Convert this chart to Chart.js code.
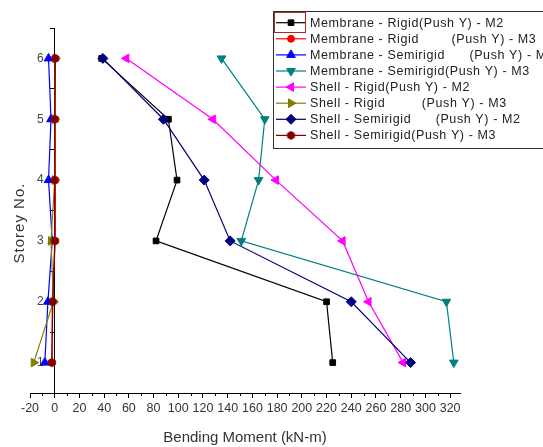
<!DOCTYPE html>
<html>
<head>
<meta charset="utf-8">
<script src="https://cdn.jsdelivr.net/npm/chart.js@4/dist/chart.umd.min.js"></script>
<style>
  html, body { margin: 0; padding: 0; background: #fff; }
  canvas { display: block; }
</style>
</head>
<body>
<canvas id="chart" width="543" height="447"></canvas>
<script>
// Storey levels (y) and bending moments in kN-m (x) for each model / direction
const storeys = [1, 2, 3, 4, 5, 6];
const membraneRigidM2     = [225, 220, 82, 99, 92, 38];
const membraneRigidM3     = [-2, -2, 0.5, 0.5, 0.5, 0.5];
const membraneSemirigidM2 = [-8, -5.5, -2, -5, -3, -5];
const membraneSemirigidM3 = [323, 317, 151, 165, 170, 135];
const shellRigidM2        = [282, 254, 233, 179, 128, 58];
const shellRigidM3        = [-17, -1, -3, 0, 0, 0.5];
const shellSemirigidM2    = [288, 240, 142, 121, 88, 39];
const shellSemirigidM3    = [-2.5, -1.5, 0, 0, 0, 0.5];

const seriesNames = [
  'Membrane - Rigid(Push Y) - M2',
  'Membrane - Rigid        (Push Y) - M3',
  'Membrane - Semirigid      (Push Y) - M2',
  'Membrane - Semirigid(Push Y) - M3',
  'Shell - Rigid(Push Y) - M2',
  'Shell - Rigid         (Push Y) - M3',
  'Shell - Semirigid      (Push Y) - M2',
  'Shell - Semirigid(Push Y) - M3'
];

const xMajorTicks = [-20, 0, 20, 40, 60, 80, 100, 120, 140, 160, 180, 200, 220, 240, 260, 280, 300, 320];
const xMinorTicks = [-10, 10, 30, 50, 70, 90, 110, 130, 150, 170, 190, 210, 230, 250, 270, 290, 310];
const yTicks = [0.5, 1, 1.5, 2, 2.5, 3, 3.5, 4, 4.5, 5, 5.5, 6, 6.5];
const yTickLabels = [1, 2, 3, 4, 5, 6];

const FONT = '"Liberation Sans", Arial, sans-serif';
Chart.defaults.font.family = FONT;

// filled hexagon marker
function hexagonMarker(color, r) {
  const s = Math.ceil(r * 2 + 2);
  const c = document.createElement('canvas');
  c.width = s; c.height = s;
  const g = c.getContext('2d');
  g.fillStyle = color;
  g.beginPath();
  for (let i = 0; i < 6; i++) {
    const a = Math.PI / 6 + i * Math.PI / 3;
    const px = s / 2 + r * Math.cos(a), py = s / 2 + r * Math.sin(a);
    if (i) g.lineTo(px, py); else g.moveTo(px, py);
  }
  g.closePath();
  g.fill();
  return c;
}

function toPoints(values) {
  return values.map((v, i) => ({ x: v, y: storeys[i] }));
}

const styles = [
  { color: '#000000', style: 'rect',     rot: 0,   r: 4 },
  { color: '#ff0000', style: 'circle',   rot: 0,   r: 3.5 },
  { color: '#0000ff', style: 'triangle', rot: 0,   r: 5 },
  { color: '#008080', style: 'triangle', rot: 180, r: 5 },
  { color: '#ff00ff', style: 'triangle', rot: 270, r: 5 },
  { color: '#808000', style: 'triangle', rot: 90,  r: 5 },
  { color: '#000080', style: 'rectRot',  rot: 0,   r: 5 },
  { color: '#800000', style: hexagonMarker('#800000', 4.5), rot: 0, r: 4.5 }
];

const seriesValues = [
  membraneRigidM2, membraneRigidM3, membraneSemirigidM2, membraneSemirigidM3,
  shellRigidM2, shellRigidM3, shellSemirigidM2, shellSemirigidM3
];

const datasets = seriesValues.map((vals, i) => ({
  label: seriesNames[i],
  data: toPoints(vals),
  showLine: true,
  borderColor: styles[i].color,
  backgroundColor: styles[i].color,
  borderWidth: 1.2,
  pointStyle: styles[i].style,
  pointRotation: styles[i].rot,
  pointRadius: styles[i].r,
  pointBackgroundColor: styles[i].color,
  pointBorderColor: styles[i].color,
  pointBorderWidth: 1,
  tension: 0,
  order: 8 - i
}));

// y tick labels beside the axis crossing at x = 0 (drawn under the series)
const yLabels = {
  id: 'yLabels',
  beforeDatasetsDraw(chart) {
    const ctx = chart.ctx;
    const xs = chart.scales.x, ys = chart.scales.y;
    const axisX = xs.getPixelForValue(0);
    ctx.save();
    ctx.font = '12px ' + FONT;
    ctx.fillStyle = '#444';
    ctx.textAlign = 'right';
    ctx.textBaseline = 'middle';
    yTickLabels.forEach(v => {
      ctx.fillText(String(v), axisX - 11, ys.getPixelForValue(v));
    });
    ctx.restore();
  }
};

// boxed legend, minor ticks and vertical axis title
const decorations = {
  id: 'decorations',
  afterDraw(chart) {
    const ctx = chart.ctx;
    const xs = chart.scales.x;
    const bottom = chart.chartArea.bottom;
    ctx.save();

    // minor ticks on the x axis
    ctx.strokeStyle = '#000';
    ctx.lineWidth = 1;
    xMinorTicks.forEach(v => {
      const px = Math.round(xs.getPixelForValue(v)) + 0.5;
      ctx.beginPath();
      ctx.moveTo(px, bottom);
      ctx.lineTo(px, bottom + 3);
      ctx.stroke();
    });

    // y axis title
    ctx.save();
    ctx.translate(20, 223);
    ctx.rotate(-Math.PI / 2);
    ctx.font = '15px ' + FONT;
    ctx.letterSpacing = '1px';
    ctx.fillStyle = '#333';
    ctx.textAlign = 'center';
    ctx.textBaseline = 'middle';
    ctx.fillText('Storey No.', 0, 0);
    ctx.restore();

    // legend
    const left = 273.5, top = 11.5, rowH = 16.1, firstY = 22.7;
    ctx.fillStyle = '#fff';
    ctx.fillRect(left, top, 300, 137);
    ctx.strokeStyle = '#333';
    ctx.lineWidth = 1;
    ctx.strokeRect(left, top, 300, 137);
    chart.data.datasets.forEach((ds, i) => {
      const y = firstY + i * rowH;
      ctx.strokeStyle = ds.borderColor;
      ctx.lineWidth = 1.2;
      ctx.beginPath();
      ctx.moveTo(276, y);
      ctx.lineTo(306, y);
      ctx.stroke();
      ctx.fillStyle = ds.pointBackgroundColor;
      ctx.strokeStyle = ds.pointBorderColor;
      ctx.lineWidth = 1;
      Chart.helpers.drawPoint(ctx, {
        pointStyle: ds.pointStyle,
        rotation: ds.pointRotation || 0,
        radius: ds.pointRadius,
        borderWidth: 1
      }, 291, y);
      ctx.fillStyle = '#222';
      ctx.font = '12.5px ' + FONT;
      ctx.letterSpacing = '0.6px';
      ctx.textAlign = 'left';
      ctx.textBaseline = 'middle';
      ctx.fillText(ds.label, 310, y + 0.5);
    });
    // highlight frame around the first legend sample
    ctx.letterSpacing = '0px';
    ctx.strokeStyle = '#b02828';
    ctx.lineWidth = 1;
    ctx.strokeRect(274.5, 12.5, 31, 20);
    ctx.restore();
  }
};

new Chart(document.getElementById('chart'), {
  type: 'scatter',
  data: { datasets },
  options: {
    responsive: false,
    animation: false,
    layout: { padding: { left: 30, right: 83, top: 28, bottom: 0 } },
    plugins: { legend: { display: false }, tooltip: { enabled: false } },
    scales: {
      x: {
        type: 'linear',
        position: 'bottom',
        min: -20,
        max: 328,
        afterBuildTicks: s => { s.ticks = xMajorTicks.map(v => ({ value: v })); },
        grid: { drawOnChartArea: false, drawTicks: true, tickLength: 5, color: '#000', tickColor: '#000' },
        border: { display: true, color: '#000', width: 1 },
        ticks: { color: '#333', font: { size: 12.5 }, padding: 3, maxRotation: 0, autoSkip: false },
        title: {
          display: true,
          text: 'Bending Moment (kN-m)',
          color: '#333',
          font: { size: 15 },
          padding: { top: 10, bottom: 0 }
        }
      },
      y: {
        type: 'linear',
        position: { x: 0 },
        min: 0.5,
        max: 6.5,
        afterBuildTicks: s => { s.ticks = yTicks.map(v => ({ value: v })); },
        grid: { drawOnChartArea: false, drawTicks: true, tickLength: 4, color: '#000', tickColor: '#000' },
        border: { display: true, color: '#000', width: 1 },
        ticks: { display: false }
      }
    }
  },
  plugins: [yLabels, decorations]
});
</script>
</body>
</html>
